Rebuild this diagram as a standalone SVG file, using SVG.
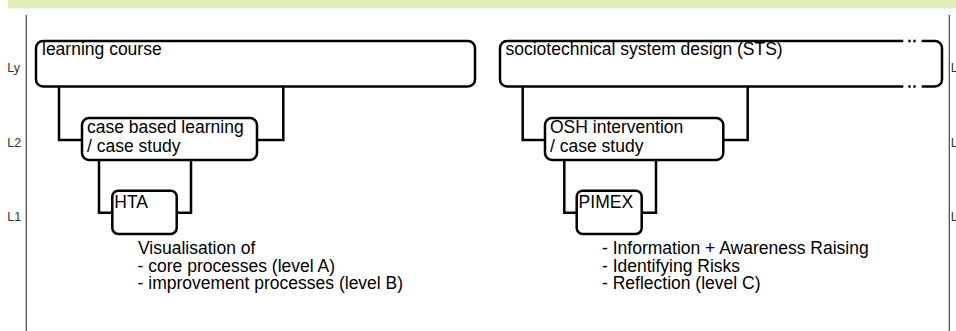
<svg xmlns="http://www.w3.org/2000/svg" width="956" height="331" viewBox="0 0 956 331">
<style>
.box{fill:#fff;stroke:#000;stroke-width:2.5}
.conn{fill:none;stroke:#000;stroke-width:2.5}
.t{font-family:"Liberation Sans",Arial,sans-serif;font-size:17.5px;fill:#000}
.lbl{font-family:"Liberation Sans",Arial,sans-serif;font-size:12.5px;fill:#333}
.axis{stroke:#444;stroke-width:1.2}
</style>
<rect width="956" height="331" fill="#fff"/>
<rect x="8" y="0" width="948" height="8.5" fill="#e0efb9"/>
<g id="axes">
<line class="axis" x1="26.3" y1="15" x2="26.3" y2="331"/>
<line class="axis" x1="949.3" y1="15" x2="949.3" y2="331"/>
<text class="lbl" x="7.3" y="72">Ly</text>
<text class="lbl" x="7.3" y="146.5">L2</text>
<text class="lbl" x="7.3" y="221">L1</text>
<text class="lbl" x="950.7" y="72">L</text>
<text class="lbl" x="950.7" y="146.5">L</text>
<text class="lbl" x="950.7" y="221">L</text>
</g>
<g id="connectors">
<path class="conn" d="M59 86V140H82M283.3 86V140H257"/>
<path class="conn" d="M99 160V212.7H112.3M191 160V212.7H176.7"/>
<path class="conn" d="M522.7 86V140H545M747.7 86V140H723.3"/>
<path class="conn" d="M564.3 160V212.7H576.7M656 160V212.7H641.7"/>
</g>
<g id="learning-course">
<rect class="box" x="36" y="41" width="439" height="45.5" rx="7"/>
<text class="t" x="42" y="55">learning course</text>
</g>
<g id="case-based-learning">
<rect class="box" x="82" y="118" width="175" height="42" rx="7"/>
<text class="t" x="87" y="133.3">case based learning<tspan x="87" dy="18.4">/ case study</tspan></text>
</g>
<g id="hta">
<rect class="box" x="112.3" y="190.7" width="64.4" height="43.3" rx="6"/>
<text class="t" x="114.3" y="208.3">HTA</text>
</g>
<g id="hta-notes">
<text class="t" x="138" y="254">Visualisation of<tspan x="137.6" dy="17.7">- core processes (level A)</tspan><tspan x="137.6" dy="17.7">- improvement processes (level B)</tspan></text>
</g>
<g id="sts">
<path class="box" d="M903.3 41H507A7 7 0 0 0 500 48V79.5A7 7 0 0 0 507 86.5H903.3"/>
<path class="box" d="M921.7 41H935A7 7 0 0 1 942 48V79.5A7 7 0 0 1 935 86.5H921.7"/>
<path class="conn" d="M908.3 41H910.7M913.3 41H915.7M908.3 86.5H910.7M913.3 86.5H915.7"/>
<text class="t" x="505.5" y="55">sociotechnical system design (STS)</text>
</g>
<g id="osh-intervention">
<rect class="box" x="545" y="118" width="178.3" height="42" rx="7"/>
<text class="t" x="550" y="133.3">OSH intervention<tspan x="550" dy="18.4">/ case study</tspan></text>
</g>
<g id="pimex">
<rect class="box" x="576.7" y="190.7" width="65" height="43.3" rx="6"/>
<text class="t" x="578.6" y="208.3">PIMEX</text>
</g>
<g id="pimex-notes">
<text class="t" x="602" y="254">- Information + Awareness Raising<tspan x="602" dy="17.7">- Identifying Risks</tspan><tspan x="602" dy="17.7">- Reflection (level C)</tspan></text>
</g>
</svg>
